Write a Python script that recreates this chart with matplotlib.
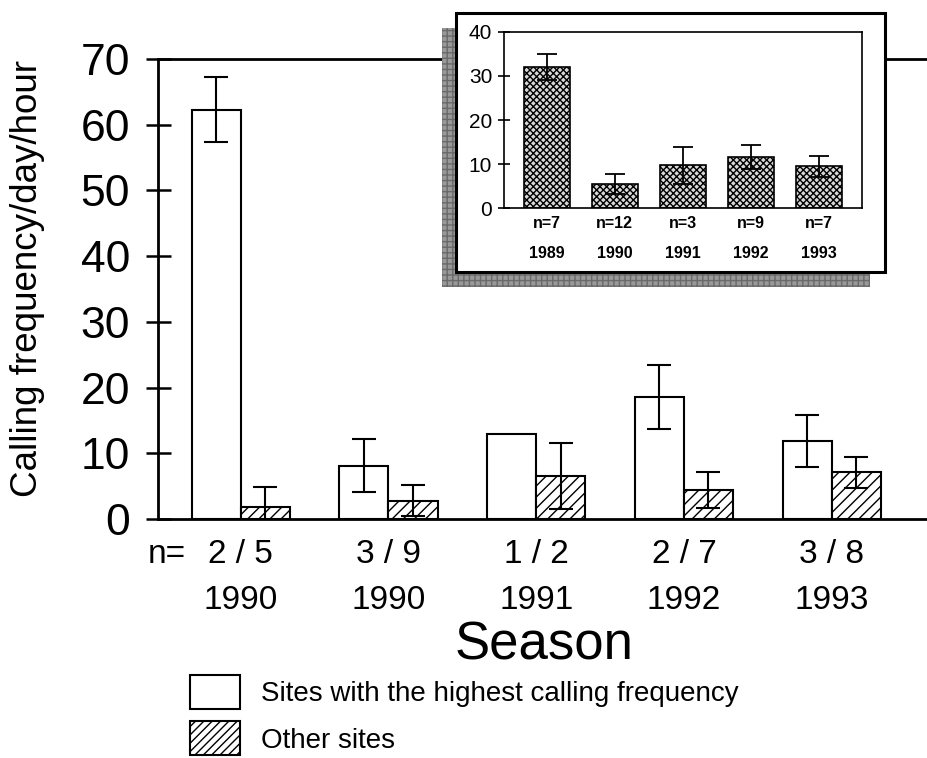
import numpy as np
import matplotlib
matplotlib.use('Agg')
import matplotlib.pyplot as plt
from matplotlib.patches import Rectangle, Patch

plt.rcParams['font.family'] = ['Liberation Sans', 'DejaVu Sans']
plt.rcParams['hatch.linewidth'] = 1.0

# main chart data
seasons = ['1990', '1990', '1991', '1992', '1993']
n_sites = ['2 / 5', '3 / 9', '1 / 2', '2 / 7', '3 / 8']
highest = [62.3, 8.1, 13.0, 18.6, 11.9]
highest_err = [4.9, 4.0, 0.0, 4.9, 4.0]
other = [1.9, 2.8, 6.5, 4.4, 7.1]
other_err = [3.0, 2.3, 5.0, 2.7, 2.4]

# inset data
inset_years = ['1989', '1990', '1991', '1992', '1993']
inset_n = ['n=7', 'n=12', 'n=3', 'n=9', 'n=7']
inset_vals = [32.0, 5.5, 9.7, 11.6, 9.5]
inset_err = [2.85, 2.2, 4.2, 2.7, 2.35]

W, H = 927, 758
fig = plt.figure(figsize=(W / 100, H / 100), dpi=100)

# ---------------- main axes ----------------
ax = fig.add_axes([158 / W, 1 - 519 / H, 769 / W, 460 / H])
x = np.arange(len(seasons))
bw = 0.332
err_kw = dict(elinewidth=1.5, capthick=1.5, capsize=8.5, ecolor='black')

ax.bar(x - bw / 2, highest, bw, color='white', edgecolor='black', linewidth=1.5, zorder=2)
hi_e = [e if e > 0 else np.nan for e in highest_err]
ax.errorbar(x - bw / 2, highest, yerr=hi_e, fmt='none', zorder=3, **err_kw)
ax.bar(x + bw / 2, other, bw, color='white', edgecolor='black', linewidth=1.5,
       hatch='///', zorder=2)
ax.errorbar(x + bw / 2, other, yerr=other_err, fmt='none', zorder=3, **err_kw)

ax.set_xlim(-0.56, 4.645)
ax.set_ylim(0, 70)
ax.set_yticks(np.arange(0, 71, 10))
ax.tick_params(axis='y', direction='inout', length=18, width=1.8, labelsize=32, pad=11)
ax.set_xticks([])
ax.spines['right'].set_visible(False)
for s in ['left', 'bottom', 'top']:
    ax.spines[s].set_linewidth(2)

xt = ax.get_xaxis_transform()
for i in range(len(seasons)):
    ax.text(x[i], -0.078, n_sites[i], transform=xt, ha='center', va='center', fontsize=24)
    ax.text(x[i], -0.178, seasons[i], transform=xt, ha='center', va='center', fontsize=24)
ax.text(-0.627, -0.078, 'n=', transform=xt, ha='left', va='center', fontsize=24)

ax.text((544 - 158) / 769, (519 - 645) / 460, 'Season', transform=ax.transAxes,
        ha='center', va='center', fontsize=38)
ax.text((28 - 158) / 769, 0.522, 'Calling frequency/day/hour', transform=ax.transAxes,
        ha='center', va='center', rotation=90, fontsize=26.5)

# ---------------- inset ----------------
shadow = Rectangle((442 / W, 1 - 287 / H), 428 / W, 259 / H, transform=fig.transFigure,
                   facecolor='#999999', edgecolor='#6a6a6a', linewidth=0, hatch='+++',
                   zorder=1)
fig.add_artist(shadow)
box = Rectangle((456 / W, 1 - 272 / H), 429 / W, 259 / H, transform=fig.transFigure,
                facecolor='white', edgecolor='black', linewidth=2.2, zorder=2)
fig.add_artist(box)

ins = fig.add_axes([504 / W, 1 - 208.3 / H, 357.7 / W, 176.6 / H], zorder=3)
xi = np.arange(len(inset_years))
ins.bar(xi, inset_vals, 0.68, color='#d8d8d8', edgecolor='black', linewidth=1.2,
        hatch='xxxxx', zorder=2)
ins.errorbar(xi, inset_vals, yerr=inset_err, fmt='none', ecolor='black',
             elinewidth=1.3, capthick=1.3, capsize=7, zorder=3)
ins.set_xlim(-0.63, 4.63)
ins.set_ylim(0, 40)
ins.set_yticks(np.arange(0, 41, 10))
ins.set_xticks([])
ins.tick_params(axis='y', direction='inout', length=9, width=1.2, labelsize=15, pad=4)
for s in ins.spines.values():
    s.set_linewidth(1.2)
xti = ins.get_xaxis_transform()
for i in range(len(inset_years)):
    ins.text(xi[i], -0.085, inset_n[i], transform=xti, ha='center', va='center',
             fontsize=11.5, fontweight='bold')
    ins.text(xi[i], -0.255, inset_years[i], transform=xti, ha='center', va='center',
             fontsize=11.5, fontweight='bold')

# ---------------- legend ----------------
handles = [Patch(facecolor='white', edgecolor='black', linewidth=1.5),
           Patch(facecolor='white', edgecolor='black', linewidth=1.5, hatch='////')]
fig.legend(handles, ['Sites with the highest calling frequency', 'Other sites'],
           loc='upper left', bbox_to_anchor=(190 / W, 1 - 675 / H), frameon=False,
           fontsize=20, handlelength=1.8, handleheight=1.5, handletextpad=0.75,
           labelspacing=0.45, borderpad=0, borderaxespad=0)

fig.savefig('out.png', dpi=100)
